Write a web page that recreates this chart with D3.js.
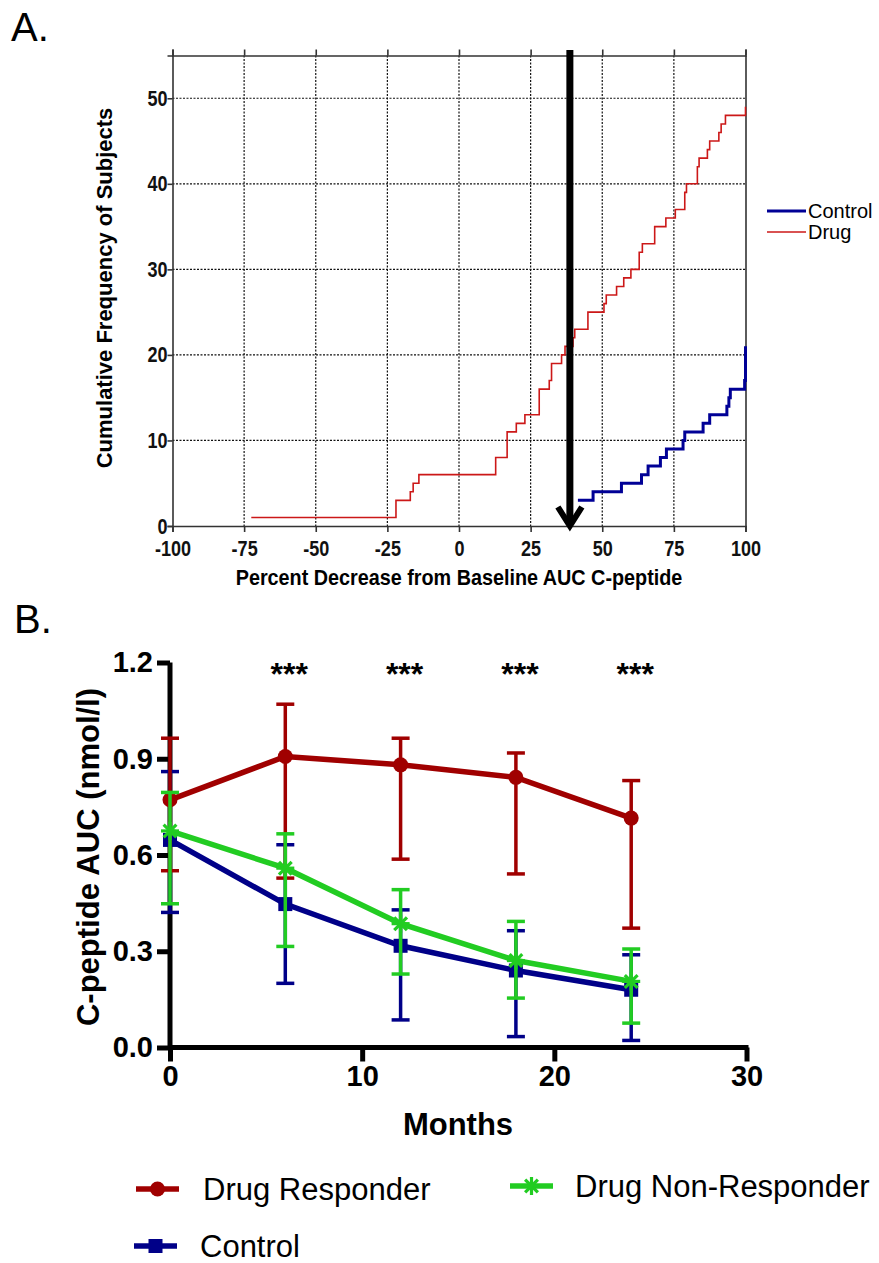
<!DOCTYPE html>
<html lang="en">
<head>
<meta charset="UTF-8">
<title>C-peptide</title>
<script src="https://cdnjs.cloudflare.com/ajax/libs/d3/7.8.5/d3.min.js"></script>
<style>
  body { margin: 0; background: #fff; }
  svg { display: block; }
</style>
</head>
<body>
<svg id="chart" width="879" height="1263"></svg>
<script>
// ---- panel A: percent decrease from baseline, one value per subject ----
var drugValues = [-72.5, -22, -22, -17, -16, -14, 12.8, 12.8, 16.8, 16.8, 16.8, 20, 23,
  28, 28, 28, 31.5, 32.3, 32.3, 35.8, 37, 39.8, 40.4, 45, 45, 50.6, 51.4, 55, 57.5, 60,
  62.9, 62.9, 64, 68.3, 68.3, 72.2, 75.5, 78.8, 78.8, 79.4, 83.2, 83.2, 83.8, 86.7, 87.5,
  90.7, 91.5, 93, 100];
var controlValues = [41.5, 41.5, 41.5, 46.8, 56.7, 63.7, 66, 70.3, 72.4, 78.2, 78.8, 85.2,
  87.5, 93.5, 94.2, 94.7, 99.7, 100, 100, 100, 100];
var xTicksA = [-100, -75, -50, -25, 0, 25, 50, 75, 100];
var yTicksA = [0, 10, 20, 30, 40, 50];
var arrowAt = 38.7;

// ---- panel B: C-peptide AUC over months ----
var months = [0, 6, 12, 18, 24];
var responderMean = [0.772, 0.907, 0.881, 0.842, 0.715];
var responderHi   = [0.964, 1.070, 0.964, 0.918, 0.832];
var responderLo   = [0.551, 0.528, 0.587, 0.541, 0.372];
var controlMean = [0.647, 0.447, 0.317, 0.240, 0.180];
var controlHi   = [0.860, 0.632, 0.429, 0.364, 0.289];
var controlLo   = [0.421, 0.200, 0.086, 0.034, 0.022];
var nonRespMean = [0.675, 0.559, 0.386, 0.271, 0.206];
var nonRespHi   = [0.795, 0.666, 0.492, 0.393, 0.307];
var nonRespLo   = [0.448, 0.315, 0.229, 0.154, 0.076];
var starMonths = [6, 12, 18, 24];
var xTicksB = [0, 10, 20, 30];
var yTicksB = [0, 0.3, 0.6, 0.9, 1.2];

var svg = d3.select("#chart");
var sans = "'Liberation Sans', Arial, sans-serif";

// panel letters
svg.append("text").attr("x", 11).attr("y", 41).attr("font-family", sans)
  .attr("font-size", 40).text("A.");
svg.append("text").attr("x", 14).attr("y", 633).attr("font-family", sans)
  .attr("font-size", 40).text("B.");

// ================= panel A =================
var xA = d3.scaleLinear().domain([-100, 100]).range([172.5, 745.5]);
var yA = d3.scaleLinear().domain([0, 55]).range([526, 55.5]);
var gA = svg.append("g");

// dotted grid
gA.selectAll("line.hgrid").data(yTicksA.filter(function(d) { return d > 0; }))
  .enter().append("line").attr("class", "hgrid")
  .attr("x1", xA(-100)).attr("x2", xA(100))
  .attr("y1", function(d) { return yA(d); }).attr("y2", function(d) { return yA(d); })
  .attr("stroke", "#111").attr("stroke-width", 1.2).attr("stroke-dasharray", "2,1.5");
gA.selectAll("line.vgrid").data(xTicksA.slice(1, -1))
  .enter().append("line").attr("class", "vgrid")
  .attr("y1", yA(55)).attr("y2", yA(0))
  .attr("x1", function(d) { return xA(d); }).attr("x2", function(d) { return xA(d); })
  .attr("stroke", "#111").attr("stroke-width", 1.2).attr("stroke-dasharray", "2,1.5");

// axes (labels are drawn condensed, like the original narrow face)
var hyphen = function(d) { return String(d).replace("\u2212", "-"); };
var axLeftA = gA.append("g").attr("transform", "translate(" + xA(-100) + ",0)")
  .call(d3.axisLeft(yA).tickValues(yTicksA).tickSize(5).tickPadding(1).tickFormat(hyphen));
var axBotA = gA.append("g").attr("transform", "translate(0," + yA(0) + ")")
  .call(d3.axisBottom(xA).tickValues(xTicksA).tickSize(6).tickPadding(8).tickFormat(hyphen));
var axTopA = gA.append("g").attr("transform", "translate(0," + yA(55) + ")")
  .call(d3.axisTop(xA).tickValues(xTicksA).tickSize(6).tickFormat(""));
var axRightA = gA.append("g").attr("transform", "translate(" + xA(100) + ",0)")
  .call(d3.axisRight(yA).tickValues([]).tickSize(0));
[axLeftA, axBotA, axTopA, axRightA].forEach(function(a) {
  a.select(".domain").attr("stroke", "#333").attr("stroke-width", 1.6);
  a.selectAll(".tick line").attr("stroke", "#333").attr("stroke-width", 1.6);
  a.selectAll(".tick text").attr("fill", "#111").attr("font-family", sans)
    .attr("font-weight", "bold").attr("font-size", 22).attr("transform", "scale(0.82,1)");
});

gA.append("text").attr("transform", "translate(" + xA(0) + ",585) scale(0.9,1)")
  .attr("text-anchor", "middle")
  .attr("font-family", sans).attr("font-weight", "bold").attr("font-size", 22)
  .text("Percent Decrease from Baseline AUC C-peptide");
gA.append("text").attr("transform", "translate(112,288) rotate(-90)")
  .attr("text-anchor", "middle").attr("font-family", sans).attr("font-weight", "bold")
  .attr("font-size", 22).text("Cumulative Frequency of Subjects");

// cumulative step curves
function cumulative(values) {
  var counts = d3.rollups(values, function(v) { return v.length; }, function(d) { return d; })
    .sort(function(a, b) { return a[0] - b[0]; });
  var total = 0;
  return counts.map(function(c) { total += c[1]; return [c[0], total]; });
}
var step = d3.line().curve(d3.curveStepAfter)
  .x(function(d) { return xA(d[0]); }).y(function(d) { return yA(d[1]); });
gA.append("path").attr("d", step(cumulative(controlValues)))
  .attr("fill", "none").attr("stroke", "#000096").attr("stroke-width", 3);
gA.append("path").attr("d", step(cumulative(drugValues)))
  .attr("fill", "none").attr("stroke", "#cc1818").attr("stroke-width", 1.6);

// arrow
var ax = xA(arrowAt);
gA.append("line").attr("x1", ax).attr("x2", ax).attr("y1", 50).attr("y2", 525)
  .attr("stroke", "#000").attr("stroke-width", 7);
gA.append("path").attr("d", "M" + (ax - 12) + ",507L" + ax + ",526L" + (ax + 12) + ",507")
  .attr("fill", "none").attr("stroke", "#000").attr("stroke-width", 6);

// legend A
var legA = [{name: "Control", color: "#000096", w: 3}, {name: "Drug", color: "#cc1818", w: 1.6}];
var lA = gA.selectAll("g.legA").data(legA).enter().append("g")
  .attr("transform", function(d, i) { return "translate(767," + (211 + i * 21) + ")"; });
lA.append("line").attr("x1", 0).attr("x2", 39)
  .attr("stroke", function(d) { return d.color; }).attr("stroke-width", function(d) { return d.w; });
lA.append("text").attr("x", 41).attr("y", 7).attr("font-family", sans).attr("font-size", 20)
  .text(function(d) { return d.name; });

// ================= panel B =================
var xB = d3.scaleLinear().domain([0, 30]).range([170, 746.5]);
var yB = d3.scaleLinear().domain([0, 1.2]).range([1047.5, 662.5]);
var gB = svg.append("g");

var axLeftB = gB.append("g").attr("transform", "translate(" + xB(0) + ",0)")
  .call(d3.axisLeft(yB).tickValues(yTicksB).tickSize(13).tickPadding(4).tickFormat(d3.format(".1f")));
var axBotB = gB.append("g").attr("transform", "translate(0," + yB(0) + ")")
  .call(d3.axisBottom(xB).tickValues(xTicksB).tickSize(14).tickPadding(4));
[axLeftB, axBotB].forEach(function(a) {
  a.select(".domain").attr("stroke", "#000").attr("stroke-width", 5);
  a.selectAll(".tick line").attr("stroke", "#000").attr("stroke-width", 5);
  a.selectAll(".tick text").attr("fill", "#000").attr("font-family", sans)
    .attr("font-weight", "bold").attr("font-size", 29);
});
axLeftB.select(".domain").attr("d", "M0," + yB(0) + "V" + yB(1.2));
axBotB.select(".domain").attr("d", "M" + xB(0) + ",0H" + (xB(30) + 2));

gB.append("text").attr("transform", "translate(99,857) rotate(-90)")
  .attr("text-anchor", "middle").attr("font-family", sans).attr("font-weight", "bold")
  .attr("font-size", 31).text("C-peptide AUC (nmol/l)");
gB.append("text").attr("x", 458).attr("y", 1135).attr("text-anchor", "middle")
  .attr("font-family", sans).attr("font-weight", "bold").attr("font-size", 31).text("Months");

gB.selectAll("text.star").data(starMonths).enter().append("text").attr("class", "star")
  .attr("x", function(d) { return xB(d) + 4; }).attr("y", 685).attr("text-anchor", "middle")
  .attr("font-family", sans).attr("font-weight", "bold").attr("font-size", 32).text("***");

function rows(mean, hi, lo) {
  return months.map(function(m, i) { return {m: m, v: mean[i], hi: hi[i], lo: lo[i]}; });
}
var series = [
  {name: "Control", color: "#000088", marker: "square", data: rows(controlMean, controlHi, controlLo)},
  {name: "Drug Responder", color: "#a00000", marker: "circle", data: rows(responderMean, responderHi, responderLo)},
  {name: "Drug Non-Responder", color: "#22cc22", marker: "star", data: rows(nonRespMean, nonRespHi, nonRespLo)}
];

function drawMarker(sel, kind, color) {
  if (kind === "circle") {
    sel.append("circle").attr("r", 7.5).attr("fill", color);
  } else if (kind === "square") {
    sel.append("rect").attr("x", -7).attr("y", -7).attr("width", 14).attr("height", 14).attr("fill", color);
  } else {
    [0, 45, 90, 135].forEach(function(a) {
      sel.append("line").attr("x1", -9).attr("x2", 9).attr("transform", "rotate(" + a + ")")
        .attr("stroke", color).attr("stroke-width", 3.2);
    });
  }
}

var lineB = d3.line().x(function(d) { return xB(d.m); }).y(function(d) { return yB(d.v); });
series.forEach(function(s) {
  var g = gB.append("g");
  var eb = g.selectAll("g.eb").data(s.data).enter().append("g");
  eb.append("line").attr("x1", function(d) { return xB(d.m); }).attr("x2", function(d) { return xB(d.m); })
    .attr("y1", function(d) { return yB(d.hi); }).attr("y2", function(d) { return yB(d.lo); })
    .attr("stroke", s.color).attr("stroke-width", 3.5);
  ["hi", "lo"].forEach(function(k) {
    eb.append("line").attr("x1", function(d) { return xB(d.m) - 9; }).attr("x2", function(d) { return xB(d.m) + 9; })
      .attr("y1", function(d) { return yB(d[k]); }).attr("y2", function(d) { return yB(d[k]); })
      .attr("stroke", s.color).attr("stroke-width", 3.5);
  });
  g.append("path").attr("d", lineB(s.data)).attr("fill", "none")
    .attr("stroke", s.color).attr("stroke-width", 5.5);
  g.selectAll("g.mk").data(s.data).enter().append("g")
    .attr("transform", function(d) { return "translate(" + xB(d.m) + "," + yB(d.v) + ")"; })
    .each(function() { drawMarker(d3.select(this), s.marker, s.color); });
});

// legend B
var legB = [
  {s: series[1], x: 136, y: 1189, tx: 203, ty: 1200},
  {s: series[2], x: 510, y: 1186, tx: 575, ty: 1197},
  {s: series[0], x: 134, y: 1246, tx: 200, ty: 1257}
];
legB.forEach(function(l) {
  var g = svg.append("g").attr("transform", "translate(" + l.x + "," + l.y + ")");
  g.append("line").attr("x1", 0).attr("x2", 43).attr("stroke", l.s.color).attr("stroke-width", 5.5);
  var mk = g.append("g").attr("transform", "translate(21.5,0)");
  drawMarker(mk, l.s.marker, l.s.color);
  svg.append("text").attr("x", l.tx).attr("y", l.ty).attr("font-family", sans)
    .attr("font-size", 31).text(l.s.name);
});
</script>
</body>
</html>
